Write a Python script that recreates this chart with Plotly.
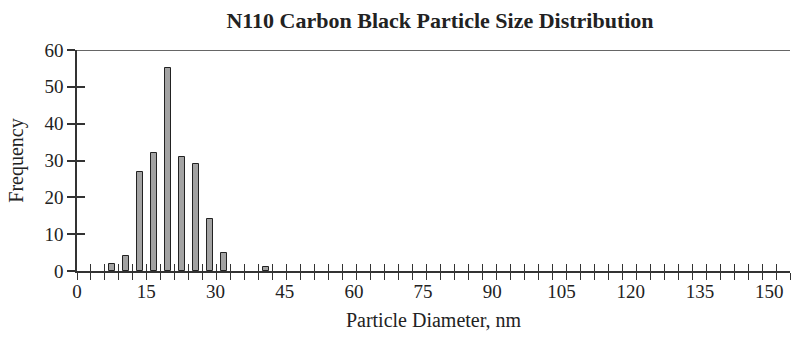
import plotly.graph_objects as go

# Particle size bins (nm, 3 nm wide) and counts
bin_centers = [7.5, 10.5, 13.5, 16.5, 19.5, 22.5, 25.5, 28.5, 31.5, 40.5]
frequency = [2, 4, 27, 32, 55, 31, 29, 14, 5, 1]

x_max = 153
bin_width = 3
x_tick_vals = list(range(0, x_max + 1, bin_width))
x_label_vals = list(range(0, 151, 15))
y_tick_vals = [0, 10, 20, 30, 40, 50, 60]

FONT = "Liberation Serif"
AXIS_COLOR = "#333333"
TEXT_COLOR = "#222222"

fig = go.Figure()
fig.add_trace(go.Bar(
    x=bin_centers, y=frequency, width=1.35,
    marker=dict(color="#a3a3a3", line=dict(color="#222222", width=1)),
    showlegend=False, hoverinfo="x+y",
))
# helper traces so the overlaid axes (inner half of the cross ticks, label row) are drawn
fig.add_trace(go.Scatter(x=[0], y=[0], xaxis="x2", yaxis="y2", mode="markers",
                         marker=dict(opacity=0), showlegend=False, hoverinfo="skip"))
fig.add_trace(go.Scatter(x=[0], y=[0], xaxis="x3", yaxis="y", mode="markers",
                         marker=dict(opacity=0), showlegend=False, hoverinfo="skip"))

fig.update_layout(
    width=797, height=337,
    margin=dict(l=77, r=7, t=50, b=66),
    paper_bgcolor="white", plot_bgcolor="white",
    font=dict(family=FONT, size=17, color=TEXT_COLOR),
    title=dict(text="<b>N110 Carbon Black Particle Size Distribution</b>",
               x=440 / 797, xanchor="center", y=1 - 20 / 337, yanchor="middle",
               font=dict(family=FONT, size=22, color=TEXT_COLOR)),
    bargap=0,
    # bin-boundary ticks (outer half)
    xaxis=dict(range=[0, x_max], tickmode="array", tickvals=x_tick_vals, showticklabels=False,
               ticks="outside", ticklen=7, tickwidth=1, tickcolor=AXIS_COLOR,
               showline=True, linecolor=AXIS_COLOR, linewidth=1.5, showgrid=False, zeroline=False),
    # bin-boundary ticks (inner half)
    xaxis2=dict(overlaying="x", anchor="y2", range=[0, x_max], tickmode="array",
                tickvals=x_tick_vals, showticklabels=False, ticks="inside", ticklen=7,
                tickwidth=1, tickcolor=AXIS_COLOR, showline=False, showgrid=False, zeroline=False),
    # diameter labels every 15 nm and the axis title
    xaxis3=dict(overlaying="x", anchor="y", side="bottom", range=[0, 154.5], tickmode="array",
                tickvals=x_label_vals, ticks="", ticklabelstandoff=7,
                showline=False, showgrid=False, zeroline=False,
                tickfont=dict(size=19),
                title=dict(text="Particle Diameter, nm", standoff=11, font=dict(size=20))),
    yaxis=dict(range=[0, 60], tickmode="array", tickvals=y_tick_vals,
               ticks="outside", ticklen=8, tickwidth=1.5, tickcolor=AXIS_COLOR,
               showline=True, linecolor=AXIS_COLOR, linewidth=1.5, showgrid=False, zeroline=False,
               title=dict(text="Frequency", standoff=15, font=dict(size=20)),
               tickfont=dict(size=19)),
    yaxis2=dict(overlaying="y", anchor="x2", range=[0, 60], tickmode="array",
                tickvals=y_tick_vals, showticklabels=False, ticks="inside", ticklen=8,
                tickwidth=1.5, tickcolor=AXIS_COLOR, showline=False, showgrid=False, zeroline=False),
    shapes=[dict(type="line", xref="paper", yref="y", x0=0, x1=1, y0=60, y1=60,
                 line=dict(color=AXIS_COLOR, width=1.5))],
)

fig.write_html("out.html")
